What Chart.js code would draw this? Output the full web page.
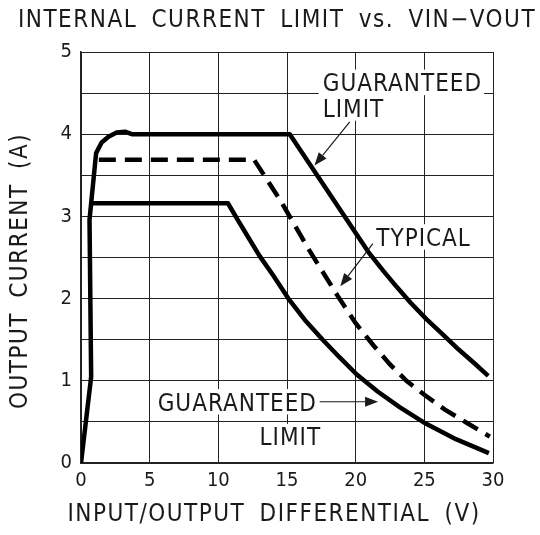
<!DOCTYPE html>
<html>
<head>
<meta charset="utf-8">
<script src="https://cdn.jsdelivr.net/npm/chart.js@4.4.1/dist/chart.umd.min.js"></script>
<style>
  html, body { margin: 0; padding: 0; background: #fff; }
</style>
</head>
<body>
<canvas id="chart" width="540" height="535"></canvas>
<script>
// Internal current limit vs. Vin-Vout

const xTicks = [0, 5, 10, 15, 20, 25, 30];
const yTicks = [0, 1, 2, 3, 4, 5];

// Guaranteed limit (upper solid curve)
const upperX = [0, 0.74, 0.62, 1.1, 1.5, 2.0, 2.6, 3.2, 3.7, 15.2, 21.0, 22.0, 23.0, 24.0, 25.15, 26.3, 27.5, 28.6, 29.65];
const upperY = [0, 1.05, 2.96, 3.77, 3.9, 3.97, 4.02, 4.03, 4.0, 4.0, 2.55, 2.34, 2.14, 1.95, 1.75, 1.57, 1.38, 1.22, 1.06];

// Typical (dashed)
const typicalX = [1.3, 12.6, 14.5, 16.65, 18.7, 20.0, 21.3, 22.5, 23.7, 25.0, 26.5, 28.08, 29.77];
const typicalY = [3.69, 3.69, 3.2, 2.58, 2.03, 1.7, 1.43, 1.2, 1.0, 0.83, 0.65, 0.49, 0.32];

// Guaranteed limit (lower solid curve)
const lowerX = [0.62, 10.7, 11.4, 12.2, 13.0, 14.0, 15.1, 16.3, 17.6, 18.8, 20.06, 21.6, 23.2, 25.1, 27.3, 29.7];
const lowerY = [3.16, 3.16, 2.96, 2.74, 2.52, 2.28, 2.0, 1.74, 1.5, 1.29, 1.08, 0.87, 0.68, 0.48, 0.29, 0.12];

const FONT = '"DejaVu Sans Condensed", "DejaVu Sans", sans-serif';
const INK = '#1a1a1a';

const toPoints = (xs, ys) => xs.map((x, i) => ({ x, y: ys[i] }));

// text labels and arrows, positioned in data units
const labels = [
    { text: 'GUARANTEED', x: 17.6, y: 4.63 },
    { text: 'LIMIT',      x: 17.6, y: 4.32 },
    { text: 'TYPICAL',    x: 21.5, y: 2.75 },
    { text: 'GUARANTEED', x: 5.58, y: 0.745 },
    { text: 'LIMIT',      x: 13.0, y: 0.32, toAxis: true }
];
const arrows = [
    { from: [19.57, 4.15], to: [17.0, 3.62] },
    { from: [21.25, 2.67], to: [18.88, 2.15] },
    { from: [17.38, 0.745], to: [21.63, 0.745] }
];

function drawArrow(ctx, x0, y0, x1, y1) {
    const a = Math.atan2(y1 - y0, x1 - x0);
    const len = 13, half = 5;
    const bx = x1 - len * Math.cos(a), by = y1 - len * Math.sin(a);
    ctx.beginPath();
    ctx.moveTo(x0, y0);
    ctx.lineTo(bx, by);
    ctx.stroke();
    ctx.beginPath();
    ctx.moveTo(x1, y1);
    ctx.lineTo(bx + half * Math.sin(a), by - half * Math.cos(a));
    ctx.lineTo(bx - half * Math.sin(a), by + half * Math.cos(a));
    ctx.closePath();
    ctx.fill();
}

const capH = size => size * 0.729;

const annotations = {
    id: 'annotations',
    beforeDatasetsDraw(chart) {
        const { ctx, scales: { x, y }, chartArea } = chart;
        ctx.save();
        ctx.font = '24px ' + FONT;
        ctx.letterSpacing = '1px';
        labels.forEach(l => {
            const px = x.getPixelForValue(l.x);
            const py = y.getPixelForValue(l.y);
            const w = ctx.measureText(l.text).width;
            const top = py - capH(24) / 2 - 4;
            const h = l.toAxis ? chartArea.bottom - 1 - top : capH(24) + 8;
            ctx.fillStyle = '#fff';
            ctx.fillRect(px - 4, top, w + 6, h);
            ctx.fillStyle = INK;
            ctx.fillText(l.text, px, py + capH(24) / 2);
        });
        ctx.restore();
    },
    afterDatasetsDraw(chart) {
        const { ctx, scales: { x, y } } = chart;
        ctx.save();
        ctx.strokeStyle = INK;
        ctx.fillStyle = INK;
        ctx.lineWidth = 1.2;
        arrows.forEach(a => {
            drawArrow(ctx,
                x.getPixelForValue(a.from[0]), y.getPixelForValue(a.from[1]),
                x.getPixelForValue(a.to[0]), y.getPixelForValue(a.to[1]));
        });
        ctx.restore();
    },
    afterDraw(chart) {
        const { ctx } = chart;
        ctx.save();
        ctx.fillStyle = INK;
        ctx.font = '24px ' + FONT;
        ctx.letterSpacing = '1.5px';
        ctx.wordSpacing = '6px';
        ctx.textAlign = 'center';
        // chart title
        ctx.fillText('INTERNAL CURRENT LIMIT vs. VIN\u2212VOUT', 277, 18.5 + capH(24) / 2);
        // x axis title
        ctx.fillText('INPUT/OUTPUT DIFFERENTIAL (V)', 274, 512 + capH(24) / 2);
        // y axis title
        ctx.translate(18, 271);
        ctx.rotate(-Math.PI / 2);
        ctx.fillText('OUTPUT CURRENT (A)', 0, capH(24) / 2);
        ctx.restore();
    }
};

new Chart(document.getElementById('chart'), {
    type: 'scatter',
    data: {
        datasets: [
            {
                label: 'Guaranteed limit (upper)',
                data: toPoints(upperX, upperY),
                showLine: true, borderColor: '#000', borderWidth: 4.5,
                borderJoinStyle: 'round', pointRadius: 0, tension: 0
            },
            {
                label: 'Typical',
                data: toPoints(typicalX, typicalY),
                showLine: true, borderColor: '#000', borderWidth: 4.5,
                borderDash: [17, 9], borderCapStyle: 'butt', pointRadius: 0, tension: 0
            },
            {
                label: 'Guaranteed limit (lower)',
                data: toPoints(lowerX, lowerY),
                showLine: true, borderColor: '#000', borderWidth: 4.5,
                borderJoinStyle: 'round', pointRadius: 0, tension: 0
            }
        ]
    },
    options: {
        responsive: false,
        animation: false,
        events: [],
        layout: { padding: { top: 52, right: 47, left: 0, bottom: 0 } },
        plugins: {
            legend: { display: false },
            tooltip: { enabled: false }
        },
        scales: {
            x: {
                type: 'linear', min: 0, max: 30,
                afterFit: s => { s.height = 72; },
                afterBuildTicks: s => { s.ticks = xTicks.map(v => ({ value: v })); },
                ticks: { color: INK, font: { family: FONT, size: 20 }, padding: 6, maxRotation: 0 },
                grid: { color: '#222', lineWidth: 1, drawTicks: false },
                border: { color: '#222', width: 1.5 }
            },
            y: {
                type: 'linear', min: 0, max: 5,
                afterFit: s => { s.width = 81; },
                ticks: {
                    stepSize: 0.5,
                    color: INK, font: { family: FONT, size: 20 }, padding: 9,
                    callback: v => yTicks.includes(v) ? String(v) : ''
                },
                grid: { color: '#222', lineWidth: 1, drawTicks: false },
                border: { color: '#222', width: 1.5 }
            }
        }
    },
    plugins: [annotations]
});
</script>
</body>
</html>
